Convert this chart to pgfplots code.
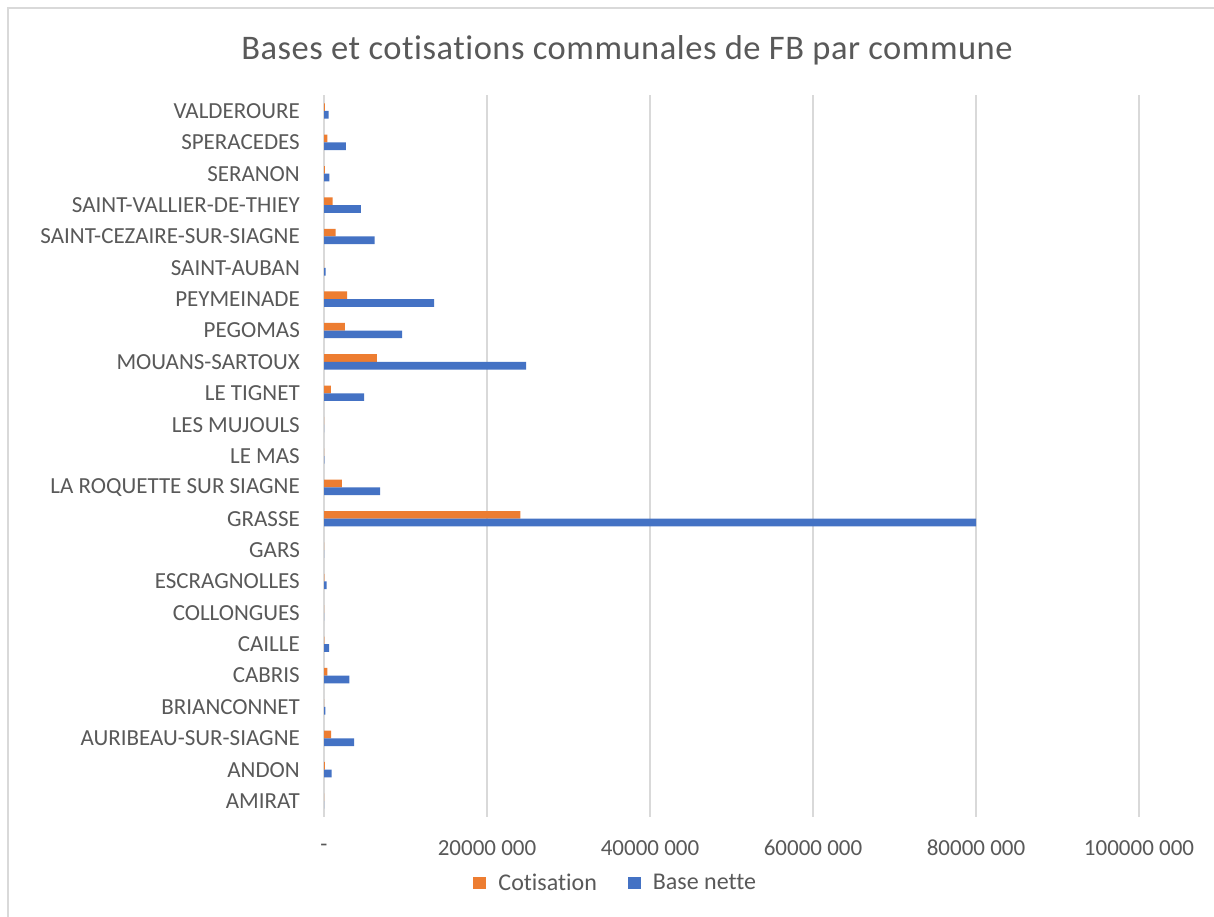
\documentclass[border=0pt]{standalone}
\usepackage{fontspec}
\setmainfont{Carlito}[Ligatures={NoCommon}]
\newfontfamily\titlefont{Carlito}[Ligatures={NoCommon}, LetterSpace=1.5]
\usepackage{pgfplots}
\pgfplotsset{compat=1.18}
\definecolor{cotis}{HTML}{ED7D31}
\definecolor{base}{HTML}{4472C4}
\definecolor{txt}{HTML}{595959}
\definecolor{gridc}{HTML}{D9D9D9}
\begin{document}
\begin{tikzpicture}
\clip (0pt,0pt) rectangle (1214pt,-916pt);
\path[use as bounding box] (0pt,0pt) rectangle (1214pt,-916pt);
\fill[white] (0pt,0pt) rectangle (1214pt,-916pt);
\draw[gridc, line width=1.5pt] (8pt,-8pt) rectangle (1240pt,-940pt);
\node[font=\titlefont\fontsize{34.5}{40}\selectfont, text=txt] at (627pt,-50pt) {Bases et cotisations communales de FB par commune};
\begin{axis}[
  at={(324pt,-816.7pt)}, anchor=south west,
  width=815pt, height=721.4pt, scale only axis,
  xbar, bar width=7.7pt,
  xmin=0, xmax=100000000,
  ymin=-0.5, ymax=22.5,
  scaled x ticks=false,
  xtick={0,20000000,40000000,60000000,80000000,100000000},
  xticklabels={-,20000 000,40000 000,60000 000,80000 000,100000 000},
  ytick={0,...,22},
  yticklabels={AMIRAT,ANDON,AURIBEAU-SUR-SIAGNE,BRIANCONNET,CABRIS,CAILLE,COLLONGUES,ESCRAGNOLLES,GARS,GRASSE,LA ROQUETTE SUR SIAGNE,LE MAS,LES MUJOULS,LE TIGNET,MOUANS-SARTOUX,PEGOMAS,PEYMEINADE,SAINT-AUBAN,SAINT-CEZAIRE-SUR-SIAGNE,SAINT-VALLIER-DE-THIEY,SERANON,SPERACEDES,VALDEROURE},
  axis line style={draw=none},
  major tick length=0pt,
  xmajorgrids, grid style={gridc, line width=1.5pt},
  xticklabel style={font=\fontsize{23}{27}\selectfont, text=txt, anchor=center, inner sep=0pt, yshift=-31pt},
  yticklabel style={font=\fontsize{23}{27}\selectfont, text=txt, anchor=east, inner sep=0pt, xshift=-24pt},
  legend style={at={(0.358,-0.0919)}, anchor=center, draw=none, fill=none,
    font=\fontsize{24}{28}\selectfont, text=txt, legend columns=2,
    /tikz/every odd column/.append style={column sep=10pt},
    /tikz/every even column/.append style={column sep=29pt}},
  legend image code/.code={\fill[#1] (0pt,-6pt) rectangle (13pt,6pt);},
]
\addplot[fill=cotis, draw=none, bar shift=3.85pt] coordinates {
(0,0) (100000,1) (860000,2) (30000,3) (420000,4) (50000,5) (0,6) (50000,7) (0,8)
(24100000,9) (2180000,10) (10000,11) (0,12) (830000,13) (6500000,14) (2550000,15)
(2830000,16) (30000,17) (1440000,18) (1070000,19) (100000,20) (420000,21) (100000,22)};
\addlegendentry{Cotisation}
\addplot[fill=base, draw=none, bar shift=-3.85pt] coordinates {
(0,0) (950000,1) (3700000,2) (170000,3) (3100000,4) (620000,5) (20000,6) (330000,7) (0,8)
(80000000,9) (6900000,10) (50000,11) (0,12) (4930000,13) (24800000,14) (9600000,15)
(13500000,16) (200000,17) (6200000,18) (4520000,19) (660000,20) (2670000,21) (580000,22)};
\addlegendentry{Base nette}
\end{axis}
\end{tikzpicture}
\end{document}
